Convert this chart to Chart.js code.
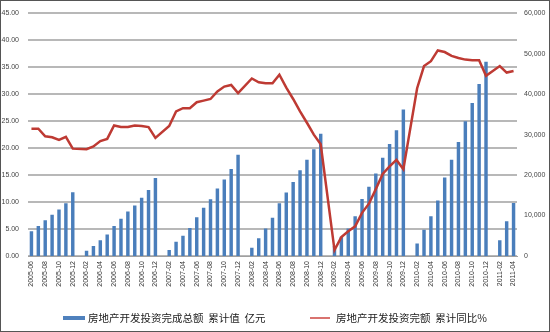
<!DOCTYPE html>
<html>
<head>
<meta charset="utf-8">
<script src="https://cdn.jsdelivr.net/npm/chart.js@4.4.1/dist/chart.umd.min.js"></script>
<style>
  html, body { margin: 0; padding: 0; background: #fff; }
  #wrap { position: relative; width: 550px; height: 332px; }
  #frame { position: absolute; left: 0; top: 0; width: 550px; height: 332px; box-sizing: border-box; border: 1px solid #555; pointer-events: none; }
  .lg { position: absolute; font-family: "Noto Sans CJK SC", sans-serif; font-size: 10.5px; color: #222; white-space: pre; line-height: 12px; }
  .mk { position: absolute; }
</style>
</head>
<body>
<div id="wrap">
  <canvas id="myChart" width="550" height="332"></canvas>
  <div class="mk" style="left:63px;top:316px;width:22px;height:4px;background:#4f81bd;"></div>
  <div class="lg" style="left:88px;top:312px;">房地产开发投资完成总额  累计值  亿元</div>
  <div class="mk" style="left:310px;top:317px;width:20px;height:2px;background:#d9736f;"></div>
  <div class="lg" style="left:336px;top:312px;">房地产开发投资完额  累计同比%</div>
  <div id="frame"></div>
</div>
<script>
// months (Jan-Feb are reported together, so January has no value)
var months = [
  '2005-06', '2005-07', '2005-08', '2005-09', '2005-10', '2005-11', '2005-12',
  '2006-01', '2006-02', '2006-03', '2006-04', '2006-05', '2006-06', '2006-07', '2006-08', '2006-09', '2006-10', '2006-11', '2006-12',
  '2007-01', '2007-02', '2007-03', '2007-04', '2007-05', '2007-06', '2007-07', '2007-08', '2007-09', '2007-10', '2007-11', '2007-12',
  '2008-01', '2008-02', '2008-03', '2008-04', '2008-05', '2008-06', '2008-07', '2008-08', '2008-09', '2008-10', '2008-11', '2008-12',
  '2009-01', '2009-02', '2009-03', '2009-04', '2009-05', '2009-06', '2009-07', '2009-08', '2009-09', '2009-10', '2009-11', '2009-12',
  '2010-01', '2010-02', '2010-03', '2010-04', '2010-05', '2010-06', '2010-07', '2010-08', '2010-09', '2010-10', '2010-11', '2010-12',
  '2011-01', '2011-02', '2011-03', '2011-04'
];

// cumulative investment, 亿元
var investTotal = [
  6120, 7430, 8820, 10200, 11500, 13060, 15760,
  null, 1310, 2450, 3920, 5300, 7430, 9220, 11000, 12500, 14400, 16300, 19270,
  null, 1470, 3510, 4980, 6940, 9550, 11900, 14000, 16650, 18900, 21500, 25000,
  null, 2040, 4400, 6800, 9470, 13060, 15670, 18300, 21200, 23760, 26400, 30200,
  null, 2500, 4730, 6780, 9800, 14100, 17100, 20400, 24300, 27700, 31100, 36200,
  null, 3100, 6500, 9800, 13700, 19400, 23800, 28200, 33300, 37800, 42500, 48000,
  null, 3900, 8600, 13100
];

// cumulative year-on-year growth, %
var investGrowth = [
  23.6, 23.6, 22.2, 22.0, 21.5, 22.1, 19.9,
  null, 19.8, 20.3, 21.3, 21.7, 24.2, 23.9, 23.9, 24.2, 24.1, 23.9, 21.9,
  null, 24.1, 26.8, 27.4, 27.4, 28.5, 28.8, 29.1, 30.5, 31.4, 31.7, 30.2,
  null, 32.9, 32.2, 32.0, 32.0, 33.6, 31.2, 29.1, 26.8, 24.7, 22.5, 20.7,
  null, 1.1, 3.5, 4.6, 5.5, 8.0, 9.7, 12.4, 15.2, 16.6, 17.8, 16.1,
  null, 31.1, 35.2, 36.1, 38.1, 37.8, 37.1, 36.7, 36.4, 36.3, 36.3, 33.4,
  null, 35.2, 34.0, 34.3
];

var tickFont = { family: 'Liberation Sans', size: 7 };

const data = {
  labels: months,
  datasets: [{
    type: 'line',
    label: '房地产开发投资完额 累计同比%',
    data: investGrowth,
    yAxisID: 'y',
    borderColor: '#be3a33',
    borderWidth: 2.5,
    pointRadius: 0,
    tension: 0,
    spanGaps: true,
    order: 0
  }, {
    type: 'bar',
    label: '房地产开发投资完成总额 累计值 亿元',
    data: investTotal,
    yAxisID: 'y1',
    backgroundColor: '#4a7ebb',
    barPercentage: 0.5,
    categoryPercentage: 1.0,
    order: 1
  }]
};

const config = {
  data: data,
  options: {
    responsive: false,
    animation: false,
    layout: { padding: { top: 12, left: 0, right: 0, bottom: 0 } },
    plugins: { legend: { display: false }, tooltip: { enabled: false } },
    scales: {
      x: {
        grid: { display: false, drawTicks: false },
        border: { color: '#a0a0a0', width: 1 },
        ticks: {
          autoSkip: false, minRotation: 90, maxRotation: 90,
          padding: 5, color: '#333', font: { family: 'Liberation Sans', size: 7 },
          callback: function (val, i) { return i % 2 === 0 ? months[i] : ''; }
        },
        afterFit: function (s) { s.height = 76; }
      },
      y: {
        position: 'left',
        min: 0, max: 45,
        grid: { color: '#b8b8b8', lineWidth: 2, drawTicks: false },
        border: { display: false },
        ticks: {
          stepSize: 5, padding: 9, color: '#444', font: tickFont,
          callback: function (v) { return v.toFixed(2); }
        },
        afterFit: function (s) { s.width = 28; }
      },
      y1: {
        position: 'right',
        min: 0, max: 60000,
        grid: { display: false, drawTicks: false },
        border: { display: false },
        ticks: {
          stepSize: 10000, padding: 7, color: '#444', font: tickFont,
          callback: function (v) { return v.toLocaleString('en-US'); }
        },
        afterFit: function (s) { s.width = 33; }
      }
    }
  }
};

const myChart = new Chart(document.getElementById('myChart'), config);
</script>
</body>
</html>
